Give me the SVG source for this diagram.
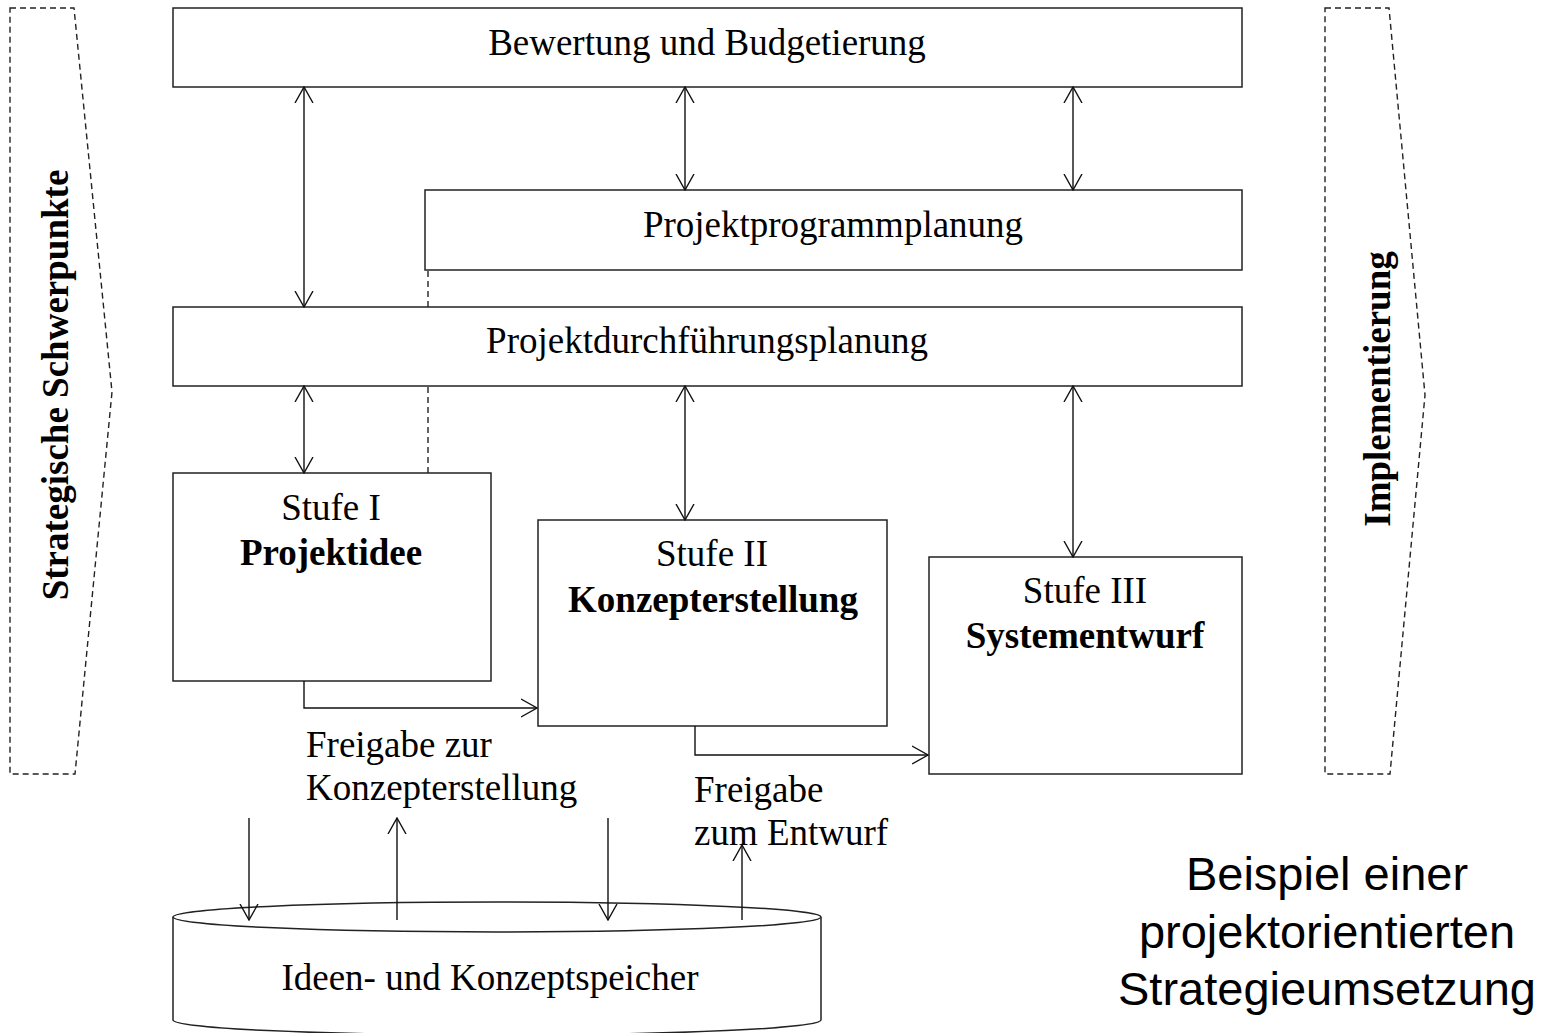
<svg xmlns="http://www.w3.org/2000/svg" width="1542" height="1033" viewBox="0 0 1542 1033">
<style>
.box{fill:#fff;stroke:#222;stroke-width:1.5}
.dash{fill:none;stroke:#222;stroke-width:1.4;stroke-dasharray:6,4}
.ln{fill:none;stroke:#111;stroke-width:1.4}
.t{font-family:"Liberation Serif","Times New Roman",serif;font-size:37px;fill:#000}
.b{font-weight:bold}
.s{font-family:"Liberation Sans",Arial,sans-serif;font-size:47px;fill:#000}
</style>
<defs>
<marker id="ah" viewBox="0 0 17 20" refX="16" refY="10" markerWidth="17" markerHeight="20" markerUnits="userSpaceOnUse" orient="auto-start-reverse">
<path d="M0,1 L16,10 L0,19" fill="none" stroke="#111" stroke-width="1.4"/>
</marker>
</defs>
<rect width="1542" height="1033" fill="#fff"/>
<g id="strategische">
<path class="dash" d="M10,8 L74,8 L112,392 L75,774 L10,774 Z"/>
<text class="t b" transform="translate(68,385) rotate(-90)" text-anchor="middle">Strategische Schwerpunkte</text>
</g>
<g id="implementierung">
<path class="dash" d="M1325,8 L1389,8 L1425,395 L1390,774 L1325,774 Z"/>
<text class="t b" transform="translate(1390,389) rotate(-90)" text-anchor="middle">Implementierung</text>
</g>
<g id="bewertung">
<rect class="box" x="173" y="8" width="1069" height="79"/>
<text class="t" x="707" y="55" text-anchor="middle">Bewertung und Budgetierung</text>
</g>
<g id="programm">
<rect class="box" x="425" y="190" width="817" height="80"/>
<text class="t" x="833" y="237" text-anchor="middle">Projektprogrammplanung</text>
</g>
<g id="durchfuehrung">
<rect class="box" x="173" y="307" width="1069" height="79"/>
<text class="t" x="707" y="353" text-anchor="middle">Projektdurchführungsplanung</text>
</g>
<g id="stufe1">
<rect class="box" x="173" y="473" width="318" height="208"/>
<text class="t" x="331" y="520" text-anchor="middle">Stufe I</text>
<text class="t b" x="331" y="565" text-anchor="middle">Projektidee</text>
</g>
<g id="stufe2">
<rect class="box" x="538" y="520" width="349" height="206"/>
<text class="t" x="712" y="566" text-anchor="middle">Stufe II</text>
<text class="t b" x="713" y="612" text-anchor="middle">Konzepterstellung</text>
</g>
<g id="stufe3">
<rect class="box" x="929" y="557" width="313" height="217"/>
<text class="t" x="1085" y="603" text-anchor="middle">Stufe III</text>
<text class="t b" x="1085" y="648" text-anchor="middle">Systementwurf</text>
</g>
<g id="speicher">
<path class="box" d="M173,917 L173,1020 A324,15 0 0 0 821,1020 L821,917"/>
<ellipse class="box" cx="497" cy="917" rx="324" ry="15"/>
<text class="t" x="490" y="990" text-anchor="middle">Ideen- und Konzeptspeicher</text>
</g>
<g id="connectors">
<line class="ln" x1="304" y1="87" x2="304" y2="307" marker-start="url(#ah)" marker-end="url(#ah)"/>
<line class="ln" x1="685" y1="87" x2="685" y2="190" marker-start="url(#ah)" marker-end="url(#ah)"/>
<line class="ln" x1="1073" y1="87" x2="1073" y2="190" marker-start="url(#ah)" marker-end="url(#ah)"/>
<line class="ln" x1="304" y1="386" x2="304" y2="473" marker-start="url(#ah)" marker-end="url(#ah)"/>
<line class="ln" x1="685" y1="386" x2="685" y2="520" marker-start="url(#ah)" marker-end="url(#ah)"/>
<line class="ln" x1="1073" y1="386" x2="1073" y2="557" marker-start="url(#ah)" marker-end="url(#ah)"/>
<line class="dash" x1="428" y1="271" x2="428" y2="307"/>
<line class="dash" x1="428" y1="387" x2="428" y2="473"/>
<polyline class="ln" points="304,681 304,708 537,708" marker-end="url(#ah)"/>
<polyline class="ln" points="695,726 695,755 928,755" marker-end="url(#ah)"/>
<line class="ln" x1="249" y1="818" x2="249" y2="920" marker-end="url(#ah)"/>
<line class="ln" x1="397" y1="920" x2="397" y2="818" marker-end="url(#ah)"/>
<line class="ln" x1="608" y1="818" x2="608" y2="920" marker-end="url(#ah)"/>
<line class="ln" x1="742" y1="920" x2="742" y2="845" marker-end="url(#ah)"/>
</g>
<g id="labels">
<text class="t" x="306" y="757">Freigabe zur</text>
<text class="t" x="306" y="800">Konzepterstellung</text>
<text class="t" x="694" y="802">Freigabe</text>
<text class="t" x="694" y="845">zum Entwurf</text>
<text class="s" x="1327" y="890" text-anchor="middle">Beispiel einer</text>
<text class="s" x="1327" y="948" text-anchor="middle">projektorientierten</text>
<text class="s" x="1327" y="1005" text-anchor="middle">Strategieumsetzung</text>
</g>
</svg>
